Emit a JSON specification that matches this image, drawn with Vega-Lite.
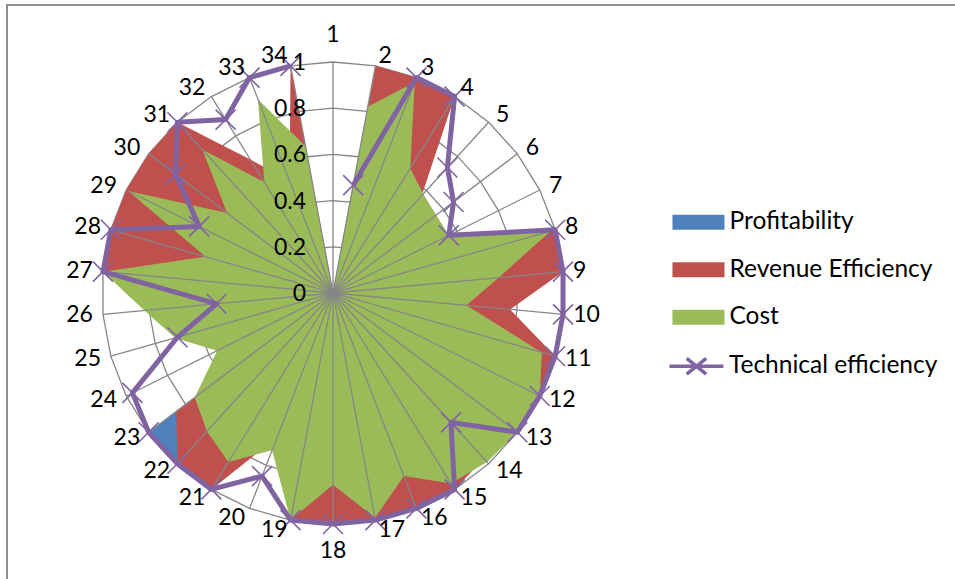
{
  "$schema": "https://vega.github.io/schema/vega-lite/v6.json",
  "width": 955,
  "height": 580,
  "autosize": {"type": "none"},
  "padding": {"left": 7, "top": 5, "right": 0, "bottom": 0},
  "background": "white",
  "config": {"view": {"stroke": "#8E8E8E", "strokeWidth": 2}, "font": "Lato"},
  "datasets": {
    "radar": [
      {"k": 1, "Profitability": 0, "Revenue Efficiency": 0, "Cost": 0, "Technical efficiency": null},
      {"k": 2, "Profitability": 0, "Revenue Efficiency": 1, "Cost": 0.82, "Technical efficiency": 0.475},
      {"k": 3, "Profitability": 0, "Revenue Efficiency": 1, "Cost": 0.98, "Technical efficiency": 1},
      {"k": 4, "Profitability": 0, "Revenue Efficiency": 1, "Cost": 0.635, "Technical efficiency": 1},
      {"k": 5, "Profitability": 0, "Revenue Efficiency": 0.57, "Cost": 0.58, "Technical efficiency": 0.735},
      {"k": 6, "Profitability": 0, "Revenue Efficiency": 0.5, "Cost": 0.56, "Technical efficiency": 0.654},
      {"k": 7, "Profitability": 0, "Revenue Efficiency": 0.5, "Cost": 0.56, "Technical efficiency": 0.56},
      {"k": 8, "Profitability": 0, "Revenue Efficiency": 1, "Cost": 0.98, "Technical efficiency": 1},
      {"k": 9, "Profitability": 0, "Revenue Efficiency": 1, "Cost": 0.72, "Technical efficiency": 1},
      {"k": 10, "Profitability": 0, "Revenue Efficiency": 0.77, "Cost": 0.58, "Technical efficiency": 1},
      {"k": 11, "Profitability": 0, "Revenue Efficiency": 1, "Cost": 0.94, "Technical efficiency": 1},
      {"k": 12, "Profitability": 0, "Revenue Efficiency": 1, "Cost": 1, "Technical efficiency": 1},
      {"k": 13, "Profitability": 0, "Revenue Efficiency": 1, "Cost": 1, "Technical efficiency": 1},
      {"k": 14, "Profitability": 0, "Revenue Efficiency": 0.97, "Cost": 0.99, "Technical efficiency": 0.758},
      {"k": 15, "Profitability": 0, "Revenue Efficiency": 1, "Cost": 0.97, "Technical efficiency": 1},
      {"k": 16, "Profitability": 0, "Revenue Efficiency": 1, "Cost": 0.85, "Technical efficiency": 1},
      {"k": 17, "Profitability": 0, "Revenue Efficiency": 1, "Cost": 0.99, "Technical efficiency": 1},
      {"k": 18, "Profitability": 0, "Revenue Efficiency": 1, "Cost": 0.83, "Technical efficiency": 1},
      {"k": 19, "Profitability": 0, "Revenue Efficiency": 1, "Cost": 1, "Technical efficiency": 1},
      {"k": 20, "Profitability": 0, "Revenue Efficiency": 0.67, "Cost": 0.73, "Technical efficiency": 0.85},
      {"k": 21, "Profitability": 0, "Revenue Efficiency": 1, "Cost": 0.86, "Technical efficiency": 1},
      {"k": 22, "Profitability": 1, "Revenue Efficiency": 1, "Cost": 0.81, "Technical efficiency": 1},
      {"k": 23, "Profitability": 1, "Revenue Efficiency": 0.85, "Cost": 0.75, "Technical efficiency": 1},
      {"k": 24, "Profitability": 0, "Revenue Efficiency": 0, "Cost": 0.56, "Technical efficiency": 0.97},
      {"k": 25, "Profitability": 0, "Revenue Efficiency": 0.5, "Cost": 0.71, "Technical efficiency": 0.7},
      {"k": 26, "Profitability": 0, "Revenue Efficiency": 0.6, "Cost": 0.82, "Technical efficiency": 0.506},
      {"k": 27, "Profitability": 0, "Revenue Efficiency": 1, "Cost": 1, "Technical efficiency": 1},
      {"k": 28, "Profitability": 0, "Revenue Efficiency": 1, "Cost": 0.574, "Technical efficiency": 1},
      {"k": 29, "Profitability": 0, "Revenue Efficiency": 1, "Cost": 0.99, "Technical efficiency": 0.647},
      {"k": 30, "Profitability": 0, "Revenue Efficiency": 1, "Cost": 0.574, "Technical efficiency": 0.854},
      {"k": 31, "Profitability": 0, "Revenue Efficiency": 1, "Cost": 0.84, "Technical efficiency": 1},
      {"k": 32, "Profitability": 0, "Revenue Efficiency": 0.68, "Cost": 0.565, "Technical efficiency": 0.883},
      {"k": 33, "Profitability": 0, "Revenue Efficiency": 0.52, "Cost": 0.9, "Technical efficiency": 1},
      {"k": 34, "Profitability": 0, "Revenue Efficiency": 1, "Cost": 0.645, "Technical efficiency": 1}
    ],
    "grid": [
      {"level": 0.2, "k": [1,2,3,4,5,6,7,8,9,10,11,12,13,14,15,16,17,18,19,20,21,22,23,24,25,26,27,28,29,30,31,32,33,34]},
      {"level": 0.4, "k": [1,2,3,4,5,6,7,8,9,10,11,12,13,14,15,16,17,18,19,20,21,22,23,24,25,26,27,28,29,30,31,32,33,34]},
      {"level": 0.6, "k": [1,2,3,4,5,6,7,8,9,10,11,12,13,14,15,16,17,18,19,20,21,22,23,24,25,26,27,28,29,30,31,32,33,34]},
      {"level": 0.8, "k": [1,2,3,4,5,6,7,8,9,10,11,12,13,14,15,16,17,18,19,20,21,22,23,24,25,26,27,28,29,30,31,32,33,34]},
      {"level": 1.0, "k": [1,2,3,4,5,6,7,8,9,10,11,12,13,14,15,16,17,18,19,20,21,22,23,24,25,26,27,28,29,30,31,32,33,34]}
    ],
    "ticks": [{"t": 0}, {"t": 0.2}, {"t": 0.4}, {"t": 0.6}, {"t": 0.8}, {"t": 1}]
  },
  "layer": [
    {
      "data": {"name": "grid"},
      "transform": [
        {"flatten": ["k"]},
        {"calculate": "(datum.k-1)*2*PI/34", "as": "a"},
        {"calculate": "datum.level*sin(datum.a)", "as": "px"},
        {"calculate": "datum.level*cos(datum.a)", "as": "py"}
      ],
      "mark": {"type": "line", "interpolate": "linear-closed", "color": "#868686", "strokeWidth": 1.3},
      "encoding": {
        "x": {"field": "px", "type": "quantitative", "scale": {"domain": [-1.41126, 2.72294], "nice": false, "zero": false}, "axis": null},
        "y": {"field": "py", "type": "quantitative", "scale": {"domain": [-1.26407, 1.24675], "nice": false, "zero": false}, "axis": null},
        "detail": {"field": "level", "type": "nominal"},
        "order": {"field": "k", "type": "quantitative"}
      }
    },
    {
      "data": {"name": "radar"},
      "transform": [
        {"fold": ["Profitability", "Revenue Efficiency", "Cost", "Technical efficiency"], "as": ["series", "v"]},
        {"filter": "datum.series === 'Profitability'"},
        {"calculate": "(datum.k-1)*2*PI/34", "as": "a"},
        {"calculate": "datum.v*sin(datum.a)", "as": "px"},
        {"calculate": "datum.v*cos(datum.a)", "as": "py"}
      ],
      "mark": {"type": "line", "interpolate": "linear-closed", "strokeWidth": 0, "strokeOpacity": 0},
      "encoding": {
        "x": {"field": "px", "type": "quantitative", "scale": {"domain": [-1.41126, 2.72294], "nice": false, "zero": false}, "axis": null},
        "y": {"field": "py", "type": "quantitative", "scale": {"domain": [-1.26407, 1.24675], "nice": false, "zero": false}, "axis": null},
        "fill": {
          "field": "series",
          "type": "nominal",
          "scale": {"domain": ["Profitability", "Revenue Efficiency", "Cost"], "range": ["#4F81BD", "#C0504D", "#9BBB59"]},
          "legend": {
            "title": null,
            "orient": "none",
            "legendX": 683.2,
            "legendY": 205,
            "padding": 0,
            "labelFont": "Lato",
            "labelFontSize": 24.5,
            "labelColor": "#000000",
            "labelOffset": 14.8,
            "labelLimit": 400,
            "rowPadding": 22.5,
            "symbolSize": 225,
            "symbolType": "M-4,-1H2.94V1H-4Z",
            "symbolStrokeWidth": 0,
            "symbolOpacity": 1
          }
        },
        "order": {"field": "k", "type": "quantitative"}
      }
    },
    {
      "data": {"name": "radar"},
      "transform": [
        {"fold": ["Profitability", "Revenue Efficiency", "Cost", "Technical efficiency"], "as": ["series", "v"]},
        {"filter": "datum.series === 'Revenue Efficiency'"},
        {"calculate": "(datum.k-1)*2*PI/34", "as": "a"},
        {"calculate": "datum.v*sin(datum.a)", "as": "px"},
        {"calculate": "datum.v*cos(datum.a)", "as": "py"}
      ],
      "mark": {"type": "line", "interpolate": "linear-closed", "strokeWidth": 0, "strokeOpacity": 0},
      "encoding": {
        "x": {"field": "px", "type": "quantitative", "scale": {"domain": [-1.41126, 2.72294], "nice": false, "zero": false}, "axis": null},
        "y": {"field": "py", "type": "quantitative", "scale": {"domain": [-1.26407, 1.24675], "nice": false, "zero": false}, "axis": null},
        "fill": {"field": "series", "type": "nominal", "scale": {"domain": ["Profitability", "Revenue Efficiency", "Cost"], "range": ["#4F81BD", "#C0504D", "#9BBB59"]}},
        "order": {"field": "k", "type": "quantitative"}
      }
    },
    {
      "data": {"name": "radar"},
      "transform": [
        {"fold": ["Profitability", "Revenue Efficiency", "Cost", "Technical efficiency"], "as": ["series", "v"]},
        {"filter": "datum.series === 'Cost'"},
        {"calculate": "(datum.k-1)*2*PI/34", "as": "a"},
        {"calculate": "datum.v*sin(datum.a)", "as": "px"},
        {"calculate": "datum.v*cos(datum.a)", "as": "py"}
      ],
      "mark": {"type": "line", "interpolate": "linear-closed", "strokeWidth": 0, "strokeOpacity": 0},
      "encoding": {
        "x": {"field": "px", "type": "quantitative", "scale": {"domain": [-1.41126, 2.72294], "nice": false, "zero": false}, "axis": null},
        "y": {"field": "py", "type": "quantitative", "scale": {"domain": [-1.26407, 1.24675], "nice": false, "zero": false}, "axis": null},
        "fill": {"field": "series", "type": "nominal", "scale": {"domain": ["Profitability", "Revenue Efficiency", "Cost"], "range": ["#4F81BD", "#C0504D", "#9BBB59"]}},
        "order": {"field": "k", "type": "quantitative"}
      }
    },
    {
      "data": {"name": "radar"},
      "transform": [
        {"calculate": "(datum.k-1)*2*PI/34", "as": "a"},
        {"calculate": "sin(datum.a)", "as": "sx"},
        {"calculate": "cos(datum.a)", "as": "sy"}
      ],
      "mark": {"type": "rule", "color": "#868686", "strokeWidth": 1.3},
      "encoding": {
        "x": {"field": "sx", "type": "quantitative", "scale": {"domain": [-1.41126, 2.72294], "nice": false, "zero": false}, "axis": null},
        "y": {"field": "sy", "type": "quantitative", "scale": {"domain": [-1.26407, 1.24675], "nice": false, "zero": false}, "axis": null},
        "x2": {"datum": 0},
        "y2": {"datum": 0}
      }
    },
    {
      "data": {"name": "radar"},
      "transform": [
        {"fold": ["Profitability", "Revenue Efficiency", "Cost", "Technical efficiency"], "as": ["series", "v"]},
        {"filter": "datum.series === 'Technical efficiency' && datum.v != null"},
        {"calculate": "(datum.k-1)*2*PI/34", "as": "a"},
        {"calculate": "datum.v*sin(datum.a)", "as": "px"},
        {"calculate": "datum.v*cos(datum.a)", "as": "py"}
      ],
      "mark": {"type": "line", "color": "#8064A2", "strokeWidth": 5, "strokeJoin": "round"},
      "encoding": {
        "x": {"field": "px", "type": "quantitative", "scale": {"domain": [-1.41126, 2.72294], "nice": false, "zero": false}, "axis": null},
        "y": {"field": "py", "type": "quantitative", "scale": {"domain": [-1.26407, 1.24675], "nice": false, "zero": false}, "axis": null},
        "order": {"field": "k", "type": "quantitative"}
      }
    },
    {
      "data": {"name": "radar"},
      "transform": [
        {"fold": ["Profitability", "Revenue Efficiency", "Cost", "Technical efficiency"], "as": ["series", "v"]},
        {"filter": "datum.series === 'Technical efficiency' && datum.v != null"},
        {"calculate": "(datum.k-1)*2*PI/34", "as": "a"},
        {"calculate": "datum.v*sin(datum.a)", "as": "px"},
        {"calculate": "datum.v*cos(datum.a)", "as": "py"}
      ],
      "mark": {"type": "point", "shape": "M-1,-1L1,1M-1,1L1,-1", "filled": false, "size": 400, "strokeWidth": 1.6, "opacity": 1},
      "encoding": {
        "x": {"field": "px", "type": "quantitative", "scale": {"domain": [-1.41126, 2.72294], "nice": false, "zero": false}, "axis": null},
        "y": {"field": "py", "type": "quantitative", "scale": {"domain": [-1.26407, 1.24675], "nice": false, "zero": false}, "axis": null},
        "stroke": {
          "field": "series",
          "type": "nominal",
          "scale": {"domain": ["Technical efficiency"], "range": ["#8064A2"]},
          "legend": {
            "title": null,
            "orient": "none",
            "legendX": 683.2,
            "legendY": 349,
            "padding": 0,
            "labelFont": "Lato",
            "labelFontSize": 24.5,
            "labelColor": "#000000",
            "labelOffset": 14.3,
            "labelLimit": 400,
            "symbolSize": 225,
            "symbolType": "M-4.4,0H2.8M-2.1,-1.05L0.5,1.05M-2.1,1.05L0.5,-1.05",
            "symbolStrokeWidth": 3.5,
            "symbolFillColor": "transparent",
            "symbolOpacity": 1
          }
        }
      }
    },
    {
      "data": {"name": "radar"},
      "transform": [
        {"calculate": "(datum.k-1)*2*PI/34", "as": "a"},
        {"calculate": "sin(datum.a)", "as": "s"},
        {"calculate": "cos(datum.a)", "as": "c"},
        {"calculate": "length(toString(datum.k))", "as": "len"},
        {"calculate": "datum.s + (abs(datum.s) < 0.01 ? 0 : (datum.s < 0 ? -1 : 1) * (1.3 + 6.7*datum.len + 8.8*abs(datum.s))) / 231", "as": "lx"},
        {"calculate": "datum.c + (abs(datum.s) < 0.01 ? (datum.c < 0 ? -27 : 27) : 10*datum.c) / 231", "as": "ly"}
      ],
      "mark": {"type": "text", "font": "Lato", "fontSize": 23, "color": "#000000", "align": "center", "baseline": "middle"},
      "encoding": {
        "x": {"field": "lx", "type": "quantitative", "scale": {"domain": [-1.41126, 2.72294], "nice": false, "zero": false}, "axis": null},
        "y": {"field": "ly", "type": "quantitative", "scale": {"domain": [-1.26407, 1.24675], "nice": false, "zero": false}, "axis": null},
        "text": {"field": "k", "type": "nominal"}
      }
    },
    {
      "data": {"name": "ticks"},
      "mark": {"type": "text", "font": "Lato", "fontSize": 23, "color": "#000000", "align": "right", "baseline": "middle", "dx": -27, "dy": 1},
      "encoding": {
        "x": {"datum": 0, "type": "quantitative", "scale": {"domain": [-1.41126, 2.72294], "nice": false, "zero": false}, "axis": null},
        "y": {"field": "t", "type": "quantitative", "scale": {"domain": [-1.26407, 1.24675], "nice": false, "zero": false}, "axis": null},
        "text": {"field": "t", "type": "quantitative", "format": "~g"}
      }
    }
  ]
}
